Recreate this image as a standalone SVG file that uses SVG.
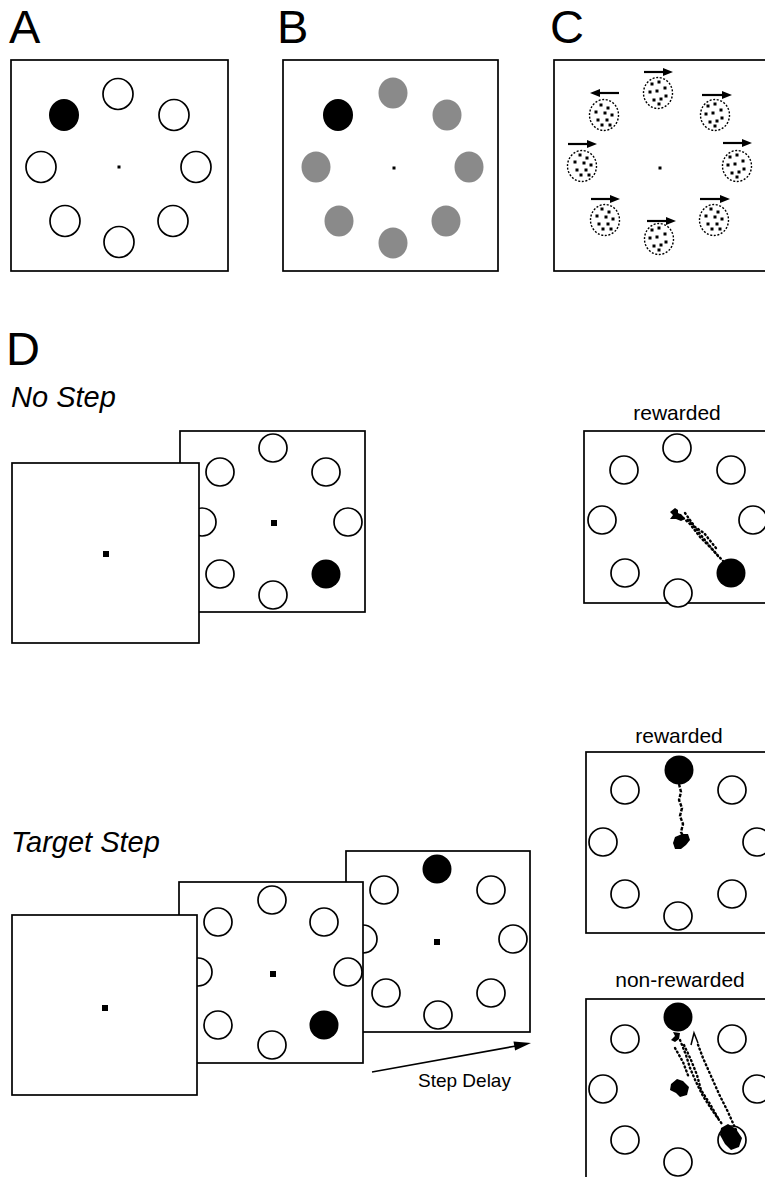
<svg xmlns="http://www.w3.org/2000/svg" xmlns:xlink="http://www.w3.org/1999/xlink" width="765" height="1177" viewBox="0 0 765 1177">
<style>
.box{fill:#fff;stroke:#000;stroke-width:1.7}
.o{fill:#fff;stroke:#000;stroke-width:1.7}
.f{fill:#000}
.g{fill:#8a8a8a}
.d{fill:#fff;stroke:#000;stroke-width:1.4;stroke-dasharray:2 1.6}
.lab{font-family:"Liberation Sans",Arial,sans-serif;font-size:47px;fill:#000}
.it{font-family:"Liberation Sans",Arial,sans-serif;font-size:29px;font-style:italic;fill:#000}
.sm{font-family:"Liberation Sans",Arial,sans-serif;font-size:21px;fill:#000;text-anchor:middle}
.sd{font-family:"Liberation Sans",Arial,sans-serif;font-size:19px;fill:#000}
.arr{stroke:#000;stroke-width:2.2;fill:none}
.tr{stroke:#000;stroke-width:2.4;fill:none;stroke-linecap:round;stroke-dasharray:1 3.2}
</style>
<defs>
<path id="hd" d="M0,0 L-10,-4 L-10,4 z" fill="#000"/>
<g id="dA">
<rect x="-8.5" y="-11.5" width="3" height="3"/><rect x="-1.5" y="-13.5" width="3" height="3"/><rect x="4.5" y="-7.5" width="3" height="3"/><rect x="-10.5" y="-3.5" width="3" height="3"/><rect x="-3.5" y="-4.5" width="3" height="3"/><rect x="5.5" y="0.5" width="3" height="3"/><rect x="-6.5" y="4.5" width="3" height="3"/><rect x="0.5" y="3.5" width="3" height="3"/><rect x="-1.5" y="8.5" width="3" height="3"/>
</g>
<g id="dB">
<rect x="-4.5" y="-12.5" width="3" height="3"/><rect x="2.5" y="-9.5" width="3" height="3"/><rect x="-9.5" y="-5.5" width="3" height="3"/><rect x="-0.5" y="-4.5" width="3" height="3"/><rect x="6.5" y="-2.5" width="3" height="3"/><rect x="-7.5" y="2.5" width="3" height="3"/><rect x="1.5" y="2.5" width="3" height="3"/><rect x="-3.5" y="7.5" width="3" height="3"/><rect x="4.5" y="7.5" width="3" height="3"/>
</g>
</defs>

<g id="panelA">
<text class="lab" x="9" y="43">A</text>
<rect class="box" x="11" y="60" width="217" height="211"/>
<rect x="117.5" y="165.5" width="3" height="3"/>
<ellipse class="o" cx="118" cy="94" rx="15" ry="15.5"/>
<ellipse class="f" cx="64" cy="115" rx="15" ry="16"/>
<ellipse class="o" cx="174" cy="115" rx="15" ry="15.5"/>
<ellipse class="o" cx="41" cy="167" rx="15" ry="15.5"/>
<ellipse class="o" cx="196" cy="167" rx="15" ry="15.5"/>
<ellipse class="o" cx="65" cy="221" rx="15" ry="15.5"/>
<ellipse class="o" cx="119" cy="242" rx="15" ry="15.5"/>
<ellipse class="o" cx="173" cy="221" rx="15" ry="15.5"/>
</g>

<g id="panelB">
<text class="lab" x="277" y="43">B</text>
<rect class="box" x="283" y="60" width="215" height="211"/>
<rect x="392.5" y="166.5" width="3" height="3"/>
<ellipse class="g" cx="393" cy="93" rx="14.5" ry="15.5"/>
<ellipse class="f" cx="338" cy="115" rx="15" ry="16"/>
<ellipse class="g" cx="447" cy="115" rx="14.5" ry="15.5"/>
<ellipse class="g" cx="316" cy="167" rx="14.5" ry="15.5"/>
<ellipse class="g" cx="469" cy="167" rx="14.5" ry="15.5"/>
<ellipse class="g" cx="339" cy="221" rx="14.5" ry="15.5"/>
<ellipse class="g" cx="393" cy="243" rx="14.5" ry="15.5"/>
<ellipse class="g" cx="446" cy="221" rx="14.5" ry="15.5"/>
</g>

<g id="panelC">
<text class="lab" x="550" y="43">C</text>
<rect class="box" x="554" y="60" width="230" height="211"/>
<rect x="658.5" y="166.5" width="3" height="3"/>
<ellipse class="d" cx="658" cy="93" rx="14.5" ry="15.5"/><use href="#dA" xlink:href="#dA" x="659" y="94"/>
<ellipse class="d" cx="604" cy="115" rx="14.5" ry="15.5"/><use href="#dB" xlink:href="#dB" x="604" y="116"/>
<ellipse class="d" cx="715" cy="115" rx="14.5" ry="15.5"/><use href="#dA" xlink:href="#dA" x="715" y="116"/>
<ellipse class="d" cx="582" cy="166" rx="14.5" ry="15.5"/><use href="#dB" xlink:href="#dB" x="583" y="166"/>
<ellipse class="d" cx="737" cy="166" rx="14.5" ry="15.5"/><use href="#dA" xlink:href="#dA" x="737" y="167"/>
<ellipse class="d" cx="605" cy="220" rx="14.5" ry="15.5"/><use href="#dB" xlink:href="#dB" x="605" y="220"/>
<ellipse class="d" cx="659" cy="239" rx="14.5" ry="15.5"/><use href="#dA" xlink:href="#dA" x="659" y="240"/>
<ellipse class="d" cx="714" cy="220" rx="14.5" ry="15.5"/><use href="#dB" xlink:href="#dB" x="714" y="220"/>
<line class="arr" x1="644" y1="72" x2="664" y2="72"/><use href="#hd" xlink:href="#hd" x="673" y="72"/>
<line class="arr" x1="619" y1="93" x2="599" y2="93"/><use href="#hd" xlink:href="#hd" transform="translate(590,93) scale(-1,1)"/>
<line class="arr" x1="702" y1="95" x2="723" y2="95"/><use href="#hd" xlink:href="#hd" x="732" y="95"/>
<line class="arr" x1="568" y1="144" x2="588" y2="144"/><use href="#hd" xlink:href="#hd" x="597" y="144"/>
<line class="arr" x1="723" y1="143" x2="743" y2="143"/><use href="#hd" xlink:href="#hd" x="752" y="143"/>
<line class="arr" x1="591" y1="199" x2="611" y2="199"/><use href="#hd" xlink:href="#hd" x="620" y="199"/>
<line class="arr" x1="647" y1="221" x2="667" y2="221"/><use href="#hd" xlink:href="#hd" x="676" y="221"/>
<line class="arr" x1="700" y1="199" x2="721" y2="199"/><use href="#hd" xlink:href="#hd" x="730" y="199"/>
</g>

<g id="panelD-label">
<text class="lab" x="6" y="365">D</text>
<text class="it" x="11" y="407">No Step</text>
<text class="it" x="11" y="852">Target Step</text>
</g>

<g id="nostep-targets">
<rect class="box" x="180" y="431" width="185" height="181"/>
<rect x="271" y="520" width="6" height="6"/>
<circle class="o" cx="273" cy="448" r="14"/>
<circle class="o" cx="220" cy="472" r="14"/>
<circle class="o" cx="326" cy="472" r="14"/>
<circle class="o" cx="202" cy="522" r="14"/>
<circle class="o" cx="348" cy="522" r="14"/>
<circle class="o" cx="220" cy="574" r="14"/>
<circle class="o" cx="273" cy="595" r="14"/>
<circle class="f" cx="326" cy="574" r="14.5"/>
</g>
<g id="nostep-fix">
<rect class="box" x="12" y="463" width="187" height="180"/>
<rect x="103" y="551" width="6" height="6"/>
</g>

<g id="nostep-rewarded">
<text class="sm" x="677" y="420">rewarded</text>
<rect class="box" x="584" y="431" width="190" height="172"/>
<circle class="o" cx="677" cy="448" r="14"/>
<circle class="o" cx="624" cy="470" r="14"/>
<circle class="o" cx="731" cy="470" r="14"/>
<circle class="o" cx="602" cy="520" r="14"/>
<circle class="o" cx="753" cy="520" r="14"/>
<circle class="o" cx="625" cy="573" r="14"/>
<circle class="o" cx="678" cy="593" r="14"/>
<circle class="f" cx="731" cy="573" r="14.5"/>
<path class="f" d="M675,508 L678,510 L678,513 L682,515 L685,519 L681,521 L676,519 L670,519 L673,515 L670,512 Z"/>
<path class="tr" d="M680,515 L690,524 L700,537 L711,548 L723,561"/>
<path class="tr" d="M685,513 L695,527 L704,533 L716,548"/>
<path class="tr" d="M688,520 L697,530 L708,544 L718,556"/>
</g>

<g id="step-targets2">
<rect class="box" x="346" y="851" width="184" height="181"/>
<rect x="434" y="939" width="6" height="6"/>
<circle class="f" cx="437" cy="869" r="14.5"/>
<circle class="o" cx="384" cy="890" r="14"/>
<circle class="o" cx="491" cy="890" r="14"/>
<circle class="o" cx="363" cy="939" r="14"/>
<circle class="o" cx="513" cy="939" r="14"/>
<circle class="o" cx="386" cy="993" r="14"/>
<circle class="o" cx="438" cy="1015" r="14"/>
<circle class="o" cx="491" cy="993" r="14"/>
</g>
<g id="step-targets1">
<rect class="box" x="179" y="882" width="184" height="181"/>
<rect x="270" y="971" width="6" height="6"/>
<circle class="o" cx="272" cy="900" r="14"/>
<circle class="o" cx="218" cy="922" r="14"/>
<circle class="o" cx="324" cy="922" r="14"/>
<circle class="o" cx="198" cy="972" r="14"/>
<circle class="o" cx="348" cy="972" r="14"/>
<circle class="o" cx="218" cy="1025" r="14"/>
<circle class="o" cx="272" cy="1045" r="14"/>
<circle class="f" cx="324" cy="1025" r="14.5"/>
</g>
<g id="step-fix">
<rect class="box" x="12" y="915" width="185" height="180"/>
<rect x="102" y="1005" width="6" height="6"/>
</g>

<g id="connectors">
<line x1="372" y1="1072" x2="516" y2="1046" stroke="#000" stroke-width="1.7"/>
<polygon points="531,1043 515.1,1050.5 513.5,1041.6" fill="#000"/>
</g>
<text class="sd" x="418" y="1087">Step Delay</text>

<g id="step-rewarded">
<text class="sm" x="679" y="743">rewarded</text>
<rect class="box" x="586" y="752" width="190" height="181"/>
<circle class="f" cx="679" cy="770" r="14.5"/>
<circle class="o" cx="625" cy="790" r="14"/>
<circle class="o" cx="732" cy="790" r="14"/>
<circle class="o" cx="603" cy="842" r="14"/>
<circle class="o" cx="757" cy="842" r="14"/>
<circle class="o" cx="625" cy="894" r="14"/>
<circle class="o" cx="678" cy="916" r="14"/>
<circle class="o" cx="732" cy="894" r="14"/>
<path d="M679,784 L681,792 L679,800 L682,808 L680,816 L683,824 L681,832 L684,838" stroke="#000" stroke-width="2.4" fill="none" stroke-dasharray="3.5 1.5"/>
<path class="f" d="M675,837 L682,834 L688,834 L690,840 L686,845 L681,849 L675,849 L673,843 Z"/>
</g>

<g id="step-nonrewarded">
<text class="sm" x="680" y="987">non-rewarded</text>
<rect class="box" x="586" y="999" width="190" height="200"/>
<circle class="f" cx="678" cy="1017" r="14.5"/>
<circle class="o" cx="625" cy="1039" r="14"/>
<circle class="o" cx="732" cy="1039" r="14"/>
<circle class="o" cx="603" cy="1089" r="14"/>
<circle class="o" cx="757" cy="1089" r="14"/>
<circle class="o" cx="625" cy="1140" r="14"/>
<circle class="o" cx="678" cy="1162" r="14"/>
<circle class="o" cx="732" cy="1140" r="14"/>
<path class="f" d="M673,1032 L680,1033 L679,1039 L675,1042 L671,1040 L675,1036 Z"/>
<path class="tr" d="M680,1040 L686,1055 L690,1068 L696,1082 L703,1096 L712,1110 L722,1124"/>
<path class="tr" d="M684,1045 L691,1060 L697,1075 L701,1090 L710,1104 L718,1118"/>
<path class="tr" d="M675,1048 L683,1062 L689,1078"/>
<path class="tr" d="M736,1130 L728,1112 L719,1094 L711,1076 L703,1058 L697,1042"/>
<path d="M691,1045 L694,1033 L698,1043" stroke="#000" stroke-width="1.5" fill="none"/>
<path class="f" d="M671,1084 L677,1079 L683,1081 L689,1087 L687,1095 L680,1097 L676,1093 L670,1090 Z"/>
<path class="f" d="M721,1128 L728,1124 L736,1129 L742,1138 L739,1147 L731,1150 L725,1144 L720,1135 Z"/>
</g>
</svg>
